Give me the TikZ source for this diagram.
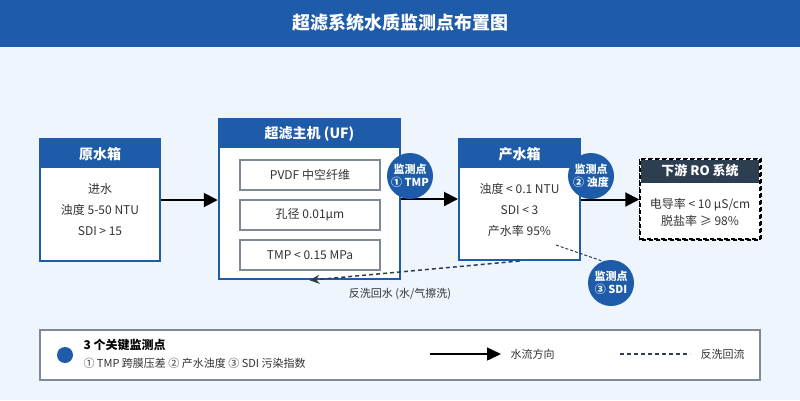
\documentclass[tikz,border=0pt]{standalone}
\usepackage{fontspec}
\setmainfont{Noto Sans CJK SC}
\usetikzlibrary{arrows.meta}
\definecolor{mainblue}{HTML}{1E5BA8}
\definecolor{bgc}{HTML}{EEF5FD}
\definecolor{txt}{HTML}{333333}
\definecolor{slate}{HTML}{2C3E50}
\definecolor{greyb}{HTML}{7F8A96}
\tikzset{
  tank/.style={draw=mainblue, line width=2pt, fill=white, minimum width=120pt, minimum height=122pt, inner sep=0pt},
  hdr/.style={text=white, font=\bfseries\fontsize{14}{14}\selectfont},
  body/.style={text=txt, font=\fontsize{12}{12}\selectfont},
  inbox/.style={draw=greyb, line width=1.5pt, fill=white, minimum width=140pt, minimum height=30pt, text=txt, font=\fontsize{12}{12}\selectfont},
  mon/.style={circle, fill=mainblue, minimum size=46pt, inner sep=0pt, text=white, align=center, font=\bfseries\fontsize{11}{13}\selectfont},
  flow/.style={line width=2pt, -{Triangle[length=14pt,width=14pt]}},
  back/.style={draw=slate, line width=1.5pt, dash pattern=on 4pt off 3pt, -{Stealth[length=10pt,width=9pt]}},
  legtxt/.style={text=txt, font=\fontsize{11}{11}\selectfont, anchor=west}
}
\begin{document}
\begin{tikzpicture}[x=1pt,y=-1pt]
\fill[bgc] (0,0) rectangle (800,400);
\useasboundingbox (0,0) rectangle (800,400);
\fill[mainblue] (0,0) rectangle (800,47);
\node[text=white, font=\bfseries\fontsize{18}{18}\selectfont] (title) at (400,23) {超滤系统水质监测点布置图};

% raw tank
\node[tank] (raw) at (100,200) {};
\fill[mainblue] (raw.north west) rectangle (160,168);
\node[hdr] (rawh) at (100,154) {原水箱};
\node[body] (raw1) at (100,189) {进水};
\node[body] (raw2) at (100,210) {浊度 5-50 NTU};
\node[body] (raw3) at (100,231) {SDI > 15};

% UF
\node[tank, minimum width=181pt, minimum height=160pt, line width=2.5pt] (uf) at (309.5,199) {};
\fill[mainblue] (uf.north west) rectangle (400,148);
\node[hdr] (ufh) at (309.5,134) {超滤主机 (UF)};
\node[inbox] (uf1) at (310,175) {PVDF 中空纤维};
\node[inbox] (uf2) at (310,215) {孔径 0.01μm};
\node[inbox] (uf3) at (310,255) {TMP < 0.15 MPa};

% product tank
\node[tank, minimum width=121pt, minimum height=121pt] (prod) at (519.5,199.5) {};
\fill[mainblue] (prod.north west) rectangle (580,168);
\node[hdr] (prodh) at (519.5,154) {产水箱};
\node[body] (p1) at (519.5,189) {浊度 < 0.1 NTU};
\node[body] (p2) at (519.5,210) {SDI < 3};
\node[body] (p3) at (519.5,231) {产水率 95\%};

% RO
\node[draw=black, line width=1.5pt, dash pattern=on 4pt off 3pt, fill=white, minimum width=120pt, minimum height=80pt, inner sep=0pt] (ro) at (700,199) {};
\fill[slate] (641,160) rectangle (759,183);
\draw[black, line width=1.5pt, dash pattern=on 4pt off 3pt] (ro.south west) rectangle (ro.north east);
\node[text=white, font=\bfseries\fontsize{13}{13}\selectfont] (roh) at (700,171) {下游 RO 系统};
\node[body] (r1) at (700,205) {电导率 < 10 μS/cm};
\node[body] (r2) at (700,221) {脱盐率 ≥ 98\%};

% flows
\draw[flow] (raw.east) -- (raw.east -| uf.west);
\draw[flow] (uf.east) -- (uf.east -| prod.west);
\draw[flow] (prod.east) -- (prod.east -| ro.west);

% backflush
\draw[back] (prod.south) -- (uf.south);
\node[text=txt, font=\fontsize{11}{11}\selectfont] (bl) at (400,294) {反洗回水 (水/气擦洗)};

% monitors
\node[mon] (m1) at (410,176) {监测点\\① TMP};
\node[mon] (m2) at (591,176) {监测点\\② 浊度};
\coordinate (sdipt) at (556,245);
\draw[slate, line width=1pt, dash pattern=on 3pt off 2pt] (sdipt) -- (605,262) coordinate (sdiend);
\node[mon] (m3) at (611,283) {监测点\\③ SDI};

% legend
\node[draw=greyb, line width=1.5pt, fill=white, minimum width=720pt, minimum height=50pt] (leg) at (400,355) {};
\fill[mainblue] (65,355) circle (8);
\node[legtxt, font=\bfseries\fontsize{12}{12}\selectfont, text=black] (lt1) at (80,345) {3 个关键监测点};
\node[legtxt] (lt2) at (80,363) {① TMP 跨膜压差 ② 产水浊度 ③ SDI 污染指数};
\coordinate (la1) at (430,354);
\coordinate (la2) at (501,354);
\draw[line width=1.5pt, -{Triangle[length=14pt,width=13pt]}] (la1) -- (la2);
\node[legtxt] (lt3) at (507,354) {水流方向};
\coordinate (lb1) at (620,354);
\coordinate (lb2) at (690,354);
\draw[slate, line width=1.5pt, dash pattern=on 4pt off 3pt] (lb1) -- (lb2);
\node[legtxt] (lt4) at (697,354) {反洗回流};
\end{tikzpicture}
\end{document}
